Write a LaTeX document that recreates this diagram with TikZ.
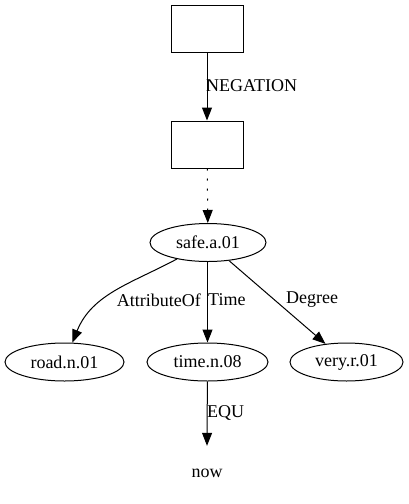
\documentclass[tikz,border=0pt]{standalone}
\usepackage{fontspec}
\setmainfont{Liberation Serif}
\usetikzlibrary{arrows.meta,shapes.geometric}
\begin{document}
\begin{tikzpicture}[x=1pt,y=-1pt,
  every node/.style={font=\fontsize{18}{20}\selectfont, inner sep=0pt},
  box/.style={draw, line width=1pt, minimum width=72pt, minimum height=47pt},
  ell/.style={draw, line width=1pt, ellipse, inner sep=1pt, minimum height=38pt},
  edge/.style={draw, line width=1pt, -{Triangle[length=13pt,width=10pt]}},
  lbl/.style={anchor=west}]
\useasboundingbox (0,0) rectangle (409,504);
\node[box] (b1) at (207,28.5) {};
\node[box] (b2) at (207,144.5) {};
\node[ell, minimum width=116pt] (safe) at (208,242.5) {safe.a.01};
\node[ell, minimum width=119pt] (road) at (64.5,362) {road.n.01};
\node[ell, minimum width=121pt] (time) at (207.5,362) {time.n.08};
\node[ell, minimum width=113pt] (very) at (346.5,362) {very.r.01};
\node[minimum height=54pt] (now) at (207,473) {now};
\draw[edge] (b1) -- (b2);
\node[lbl] (lneg) at (206,86) {NEGATION};
\draw[edge, dash pattern=on 2pt off 8pt] (b2) -- (safe);
\draw[edge] (safe.south -| time.north) -- (time);
\node[lbl] (ltime) at (208,300) {Time};
\draw[edge] (safe) to[out=-152, in=68] (road);
\node[anchor=east] (lattr) at (201,300) {AttributeOf};
\draw[edge] (safe) -- (very);
\node[lbl] (ldeg) at (286,300) {Degree};
\draw[edge] (time) -- (now.north);
\node[lbl] (lequ) at (207,413) {EQU};
\end{tikzpicture}
\end{document}
